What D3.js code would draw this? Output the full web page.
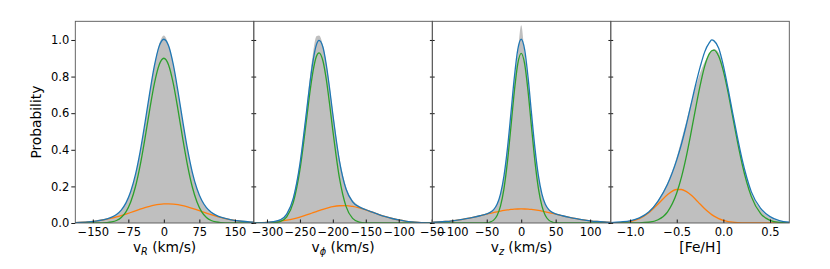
<!DOCTYPE html>
<html>
<head>
<meta charset="utf-8">
<script src="https://cdn.jsdelivr.net/npm/d3@7"></script>
<style>
  body { margin: 0; background: #fff; }
  svg { display: block; font-family: "DejaVu Sans", sans-serif; }
</style>
</head>
<body>
<svg id="chart" width="830" height="269"></svg>
<script>
// ---- data ----
const probTicks = [0, 0.2, 0.4, 0.6, 0.8, 1.0];

// v_R (km/s)
const vrGrid   = [-187,-160,-140,-120,-110,-100,-90,-80,-70,-60,-50,-40,-30,-20,-10,0,10,20,30,40,50,60,70,80,90,100,110,120,140,160,190];
const vrHist   = [0.0024,0.0064,0.0121,0.0228,0.032,0.0465,0.0705,0.11,0.172,0.264,0.39,0.544,0.71,0.862,0.975,1.025,0.975,0.87,0.72,0.557,0.405,0.28,0.188,0.125,0.085,0.06,0.044,0.033,0.019,0.011,0.004];
const vrTotal  = [0.0024,0.0064,0.0121,0.0228,0.032,0.0465,0.0705,0.11,0.172,0.264,0.39,0.544,0.708,0.858,0.965,1.004,0.968,0.865,0.717,0.555,0.403,0.278,0.187,0.124,0.084,0.059,0.043,0.032,0.019,0.011,0.004];
const vrMain   = [0,0,0.0002,0.0021,0.0056,0.0135,0.03,0.061,0.115,0.198,0.315,0.46,0.617,0.761,0.863,0.9,0.863,0.761,0.617,0.46,0.315,0.198,0.115,0.061,0.03,0.0135,0.0056,0.0021,0.0002,0,0];
const vrSecond = [0.0024,0.0064,0.0119,0.0207,0.0264,0.033,0.0405,0.0487,0.0574,0.0664,0.0752,0.0835,0.091,0.0971,0.1017,0.1044,0.105,0.1035,0.1001,0.0948,0.0881,0.0803,0.0717,0.0628,0.0539,0.0453,0.0374,0.0303,0.0187,0.0106,0.0039];
const vrTicks  = [-150, -75, 0, 75, 150];

// v_phi (km/s)
const vpGrid   = [-320,-300,-290,-280,-270,-260,-250,-240,-235,-230,-225,-221,-215,-210,-205,-200,-190,-180,-170,-160,-150,-140,-130,-120,-110,-100,-90,-80,-70,-49];
const vpHist   = [0.001,0.004,0.008,0.019,0.052,0.145,0.335,0.625,0.79,0.93,1.02,1.025,0.97,0.875,0.75,0.61,0.355,0.2,0.125,0.093,0.076,0.062,0.049,0.036,0.026,0.018,0.011,0.007,0.004,0.001];
const vpTotal  = [0.001,0.0036,0.0072,0.0173,0.0488,0.136,0.322,0.608,0.759,0.887,0.973,0.998,0.96,0.866,0.737,0.594,0.34,0.186,0.116,0.088,0.0723,0.059,0.0462,0.0346,0.0246,0.0167,0.0107,0.0066,0.0038,0.0008];
const vpMain   = [0,0.0002,0.0013,0.0075,0.0335,0.113,0.29,0.564,0.709,0.831,0.91,0.93,0.885,0.786,0.652,0.505,0.246,0.0907,0.0254,0.0054,0.0009,0.0001,0,0,0,0,0,0,0,0];
const vpSecond = [0.001,0.0034,0.0059,0.0098,0.0153,0.0228,0.0324,0.0438,0.05,0.0564,0.0627,0.0678,0.075,0.0804,0.0852,0.0892,0.0942,0.095,0.0905,0.0824,0.0714,0.0589,0.0462,0.0346,0.0246,0.0167,0.0107,0.0066,0.0038,0.0008];
const vpTicks  = [-300, -250, -200, -150, -100, -50];

// v_z (km/s)
const vzGrid   = [-129,-120,-110,-100,-90,-80,-70,-60,-50,-45,-40,-35,-30,-25,-20,-15,-10,-5,0,5,10,15,20,25,30,35,40,45,50,60,70,80,90,100,110,120,130];
const vzHist   = [0.0035,0.0054,0.0082,0.0121,0.0172,0.0236,0.0311,0.0396,0.05,0.058,0.073,0.102,0.159,0.257,0.41,0.59,0.78,0.93,1.08,0.93,0.78,0.59,0.41,0.257,0.159,0.102,0.073,0.058,0.05,0.0396,0.0311,0.0236,0.0172,0.0121,0.0082,0.0054,0.0035];
const vzTotal  = [0.0035,0.0054,0.0082,0.0121,0.0172,0.0236,0.0311,0.0396,0.05,0.058,0.073,0.102,0.159,0.257,0.406,0.596,0.794,0.947,1.004,0.947,0.794,0.596,0.406,0.257,0.159,0.102,0.073,0.058,0.05,0.0396,0.0311,0.0236,0.0172,0.0121,0.0082,0.0054,0.0035];
const vzMain   = [0,0,0,0,0,0,0,0.0001,0.0016,0.0053,0.0156,0.0407,0.0933,0.188,0.334,0.522,0.718,0.87,0.927,0.87,0.718,0.522,0.334,0.188,0.0933,0.0407,0.0156,0.0053,0.0016,0.0001,0,0,0,0,0,0,0];
const vzSecond = [0.0035,0.0054,0.0082,0.0121,0.0172,0.0236,0.0311,0.0395,0.0486,0.053,0.0573,0.0614,0.0652,0.0686,0.0715,0.0739,0.0756,0.0766,0.077,0.0766,0.0756,0.0739,0.0715,0.0686,0.0652,0.0614,0.0573,0.053,0.0486,0.0395,0.0311,0.0236,0.0172,0.0121,0.0082,0.0054,0.0035];
const vzTicks  = [-100, -50, 0, 50, 100];

// [Fe/H]
const feGrid   = [-1.207,-1.1,-1.0,-0.9,-0.8,-0.7,-0.6,-0.5,-0.45,-0.4,-0.35,-0.3,-0.25,-0.2,-0.15,-0.125,-0.1,-0.05,0.0,0.05,0.1,0.15,0.2,0.25,0.3,0.4,0.5,0.6,0.707];
const feHist   = [0.002,0.006,0.013,0.03,0.062,0.125,0.22,0.36,0.455,0.55,0.65,0.74,0.82,0.88,0.925,0.94,0.95,0.93,0.85,0.73,0.59,0.46,0.345,0.245,0.165,0.075,0.032,0.011,0.003];
const feTotal  = [0.002,0.006,0.012,0.028,0.06,0.12,0.21,0.345,0.43,0.53,0.64,0.75,0.85,0.935,0.985,1.0,0.995,0.955,0.86,0.735,0.6,0.47,0.35,0.25,0.17,0.08,0.035,0.013,0.004];
const feMain   = [0,0,0.0001,0.0008,0.0041,0.0176,0.06,0.164,0.249,0.357,0.484,0.62,0.749,0.857,0.925,0.941,0.945,0.911,0.83,0.715,0.581,0.447,0.325,0.223,0.144,0.051,0.0145,0.0033,0.0005];
const feSecond = [0.0004,0.0022,0.0081,0.0237,0.0556,0.1037,0.154,0.183,0.183,0.1726,0.154,0.13,0.1037,0.078,0.0556,0.0459,0.0374,0.0237,0.0143,0.0081,0.0043,0.0022,0.001,0.0005,0.0002,0,0,0,0];
const feTicks  = [-1.0, -0.5, 0.0, 0.5];

// ---- layout ----
const marginLeft = 75.3, marginTop = 21.3, panelW = 178.5, plotH = 201.7;

const panels = [
  { grid: vrGrid, hist: vrHist, total: vrTotal, main: vrMain, second: vrSecond,
    domain: [-187, 190], ticks: vrTicks, fmt: d3.format("d"), label: ["v", "R", " (km/s)"] },
  { grid: vpGrid, hist: vpHist, total: vpTotal, main: vpMain, second: vpSecond,
    domain: [-320, -49], ticks: vpTicks, fmt: d3.format("d"), label: ["v", "\u03d5", " (km/s)"] },
  { grid: vzGrid, hist: vzHist, total: vzTotal, main: vzMain, second: vzSecond,
    domain: [-129, 130], ticks: vzTicks, fmt: d3.format("d"), label: ["v", "z", " (km/s)"] },
  { grid: feGrid, hist: feHist, total: feTotal, main: feMain, second: feSecond,
    domain: [-1.207, 0.707], ticks: feTicks, fmt: d3.format(".1f"), label: ["[Fe/H]"] }
];

const svg = d3.select("#chart");

const y = d3.scaleLinear().domain([0, 1.102]).range([marginTop + plotH, marginTop]);

panels.forEach((p, i) => {
  const x0 = marginLeft + i * panelW;
  const x = d3.scaleLinear().domain(p.domain).range([x0, x0 + panelW]);

  const clipId = "clip" + i;
  svg.append("clipPath").attr("id", clipId)
     .append("rect")
     .attr("x", x0).attr("y", marginTop)
     .attr("width", panelW).attr("height", plotH);

  const g = svg.append("g").attr("clip-path", `url(#${clipId})`);

  const area = d3.area()
      .x((d, k) => x(p.grid[k]))
      .y0(y(0))
      .y1(d => y(d))
      .curve(d3.curveMonotoneX);

  const line = d3.line()
      .x((d, k) => x(p.grid[k]))
      .y(d => y(d))
      .curve(d3.curveMonotoneX);

  g.append("path").datum(p.hist)
   .attr("d", area)
   .attr("fill", "#bfbfbf");

  g.append("path").datum(p.second)
   .attr("d", line).attr("fill", "none")
   .attr("stroke", "#ff7f0e").attr("stroke-width", 1.3);

  g.append("path").datum(p.main)
   .attr("d", line).attr("fill", "none")
   .attr("stroke", "#2ca02c").attr("stroke-width", 1.3);

  g.append("path").datum(p.total)
   .attr("d", line).attr("fill", "none")
   .attr("stroke", "#1f77b4").attr("stroke-width", 1.3);

  // x axis, ticks pointing in
  const xAxis = svg.append("g")
      .attr("transform", `translate(0,${marginTop + plotH})`)
      .call(d3.axisBottom(x).tickValues(p.ticks).tickFormat(p.fmt)
            .tickSize(-3.5).tickPadding(5));
  xAxis.select(".domain").remove();
  xAxis.selectAll("text").attr("font-size", 11.5).attr("font-family", "DejaVu Sans").attr("fill", "#000");
  xAxis.selectAll("line").attr("stroke", "#000").attr("stroke-width", 0.9);

  // y axis
  const yAxis = svg.append("g")
      .attr("transform", `translate(${x0},0)`)
      .call(d3.axisLeft(y).tickValues(probTicks).tickFormat(d3.format(".1f"))
            .tickSize(i === 0 ? 4 : 2.4).tickPadding(2));
  yAxis.select(".domain").remove();
  yAxis.selectAll("line").attr("stroke", "#000").attr("stroke-width", 0.9);
  if (i === 0) {
    yAxis.selectAll("text").attr("font-size", 11.5).attr("font-family", "DejaVu Sans").attr("fill", "#000");
  } else {
    yAxis.selectAll("text").remove();
    yAxis.selectAll("line").attr("x1", 2.4);
  }

  // frame
  svg.append("rect")
     .attr("x", x0).attr("y", marginTop)
     .attr("width", panelW).attr("height", plotH)
     .attr("fill", "none").attr("stroke", "#555").attr("stroke-width", 0.9);

  // axis label
  const lbl = svg.append("text")
      .attr("x", x0 + panelW / 2).attr("y", 252)
      .attr("text-anchor", "middle")
      .attr("font-size", 13.8);
  if (p.label.length === 1) {
    lbl.text(p.label[0]);
  } else {
    lbl.append("tspan").text(p.label[0]);
    lbl.append("tspan").text(p.label[1])
       .attr("font-size", 9.7).attr("font-style", "italic").attr("dy", 3);
    lbl.append("tspan").text(p.label[2]).attr("dy", -3);
  }
});

svg.append("text")
   .attr("transform", `translate(40.5,${marginTop + plotH / 2}) rotate(-90)`)
   .attr("text-anchor", "middle")
   .attr("font-size", 13.8)
   .text("Probability");
</script>
</body>
</html>
